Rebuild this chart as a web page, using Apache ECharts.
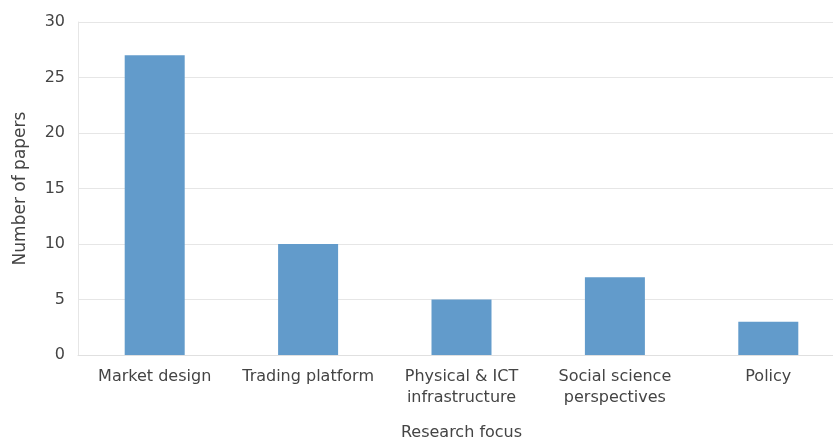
<!DOCTYPE html>
<html><head><meta charset="utf-8">
<script src="https://cdn.jsdelivr.net/npm/echarts@6/dist/echarts.min.js"></script>
<style>html,body{margin:0;padding:0;background:#fff}#c{width:833px;height:442px}</style>
</head><body><div id="c"></div>
<script>
const categories = ["Market design", "Trading platform", "Physical & ICT\ninfrastructure", "Social science\nperspectives", "Policy"];
const papers = [27, 10, 5, 7, 3];
const yTicks = [0, 5, 10, 15, 20, 25, 30];

const wide = 'DejaVu Sans';
const txt = '#444444';
const chart = echarts.init(document.getElementById('c'));
chart.setOption({
  animation: false,
  grid: { left: 78, top: 22, width: 767, height: 333, containLabel: false, outerBoundsMode: 'none' },
  xAxis: {
    type: 'category', data: categories,
    name: 'Research focus', nameLocation: 'middle', nameGap: 70,
    nameTextStyle: { fontFamily: wide, fontSize: 16, color: txt },
    axisLine: { show: true, lineStyle: { color: '#e0e0e0' } },
    axisTick: { show: false },
    axisLabel: { fontFamily: wide, fontSize: 16, color: txt, margin: 11, lineHeight: 21, interval: 0 },
    splitLine: { show: false }
  },
  yAxis: {
    type: 'value', min: yTicks[0], max: yTicks[yTicks.length - 1], interval: 5,
    name: 'Number of papers', nameLocation: 'middle', nameGap: 49,
    nameTextStyle: { fontFamily: wide, fontSize: 17, color: txt },
    axisLine: { show: true, lineStyle: { color: '#e6e6e6' } },
    axisTick: { show: false },
    axisLabel: { fontFamily: wide, fontSize: 16, color: txt, margin: 13 },
    splitLine: { show: true, lineStyle: { color: '#e6e6e6' } }
  },
  series: [{
    type: 'bar', data: papers, barWidth: 60,
    itemStyle: { color: '#629bcb' }
  }]
});
</script></body></html>
